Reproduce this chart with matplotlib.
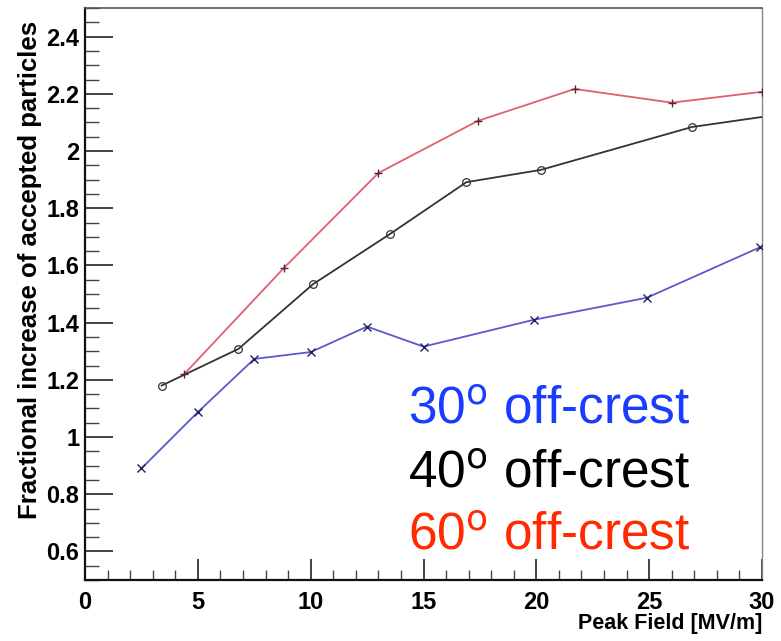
import matplotlib
matplotlib.use("Agg")
import matplotlib.pyplot as plt
from matplotlib.ticker import MultipleLocator

plt.rcParams['font.family'] = ['Liberation Sans', 'DejaVu Sans']

# Fractional increase of accepted particles vs peak field, per off-crest phase
field_30 = [2.5, 5.0, 7.5, 10.0, 12.5, 15.0, 19.9, 24.9, 29.9]
frac_30 = [0.89, 1.087, 1.273, 1.297, 1.386, 1.316, 1.41, 1.487, 1.663]

field_40 = [3.4, 6.8, 10.1, 13.5, 16.9, 20.2, 26.9, 30.0]
frac_40 = [1.18, 1.308, 1.534, 1.709, 1.891, 1.934, 2.084, 2.119]

field_60 = [4.4, 8.8, 13.0, 17.4, 21.7, 26.0, 30.0]
frac_60 = [1.22, 1.59, 1.923, 2.105, 2.217, 2.169, 2.207]

x_ticks = [0, 5, 10, 15, 20, 25, 30]
y_ticks = [0.6, 0.8, 1.0, 1.2, 1.4, 1.6, 1.8, 2.0, 2.2, 2.4]
y_tick_labels = ["0.6", "0.8", "1", "1.2", "1.4", "1.6", "1.8", "2", "2.2", "2.4"]

fig = plt.figure(figsize=(7.81, 6.41), dpi=100)
ax = fig.add_axes([85 / 781, 1 - 580 / 641, 677 / 781, 572 / 641])

ax.plot(field_60, frac_60, color="#e0606c", lw=1.3, marker="+", ms=6,
        mew=1.0, mec="#602030", zorder=3)
ax.plot(field_40, frac_40, color="#333333", lw=1.3, marker="o", ms=5.5,
        mfc="none", mew=0.9, mec="#333333", markevery=list(range(len(field_40) - 1)),
        zorder=3)
ax.plot(field_30, frac_30, color="#5a5ac8", lw=1.3, marker="x", ms=6,
        mew=1.0, mec="#202060", zorder=3)

ax.set_xlim(0, 30)
ax.set_ylim(0.5, 2.5)
ax.set_xticks(x_ticks)
ax.set_xticklabels([str(v) for v in x_ticks])
ax.set_yticks(y_ticks)
ax.set_yticklabels(y_tick_labels)
ax.xaxis.set_minor_locator(MultipleLocator(1))
ax.yaxis.set_minor_locator(MultipleLocator(0.05))

ax.tick_params(axis="both", which="major", direction="in", labelsize=17,
               width=1.2, color="#222222")
ax.tick_params(axis="y", which="major", length=20, pad=4)
ax.tick_params(axis="x", which="major", length=15, pad=8)
ax.tick_params(axis="y", which="minor", direction="in", length=10, width=1.0,
               color="#444444")
ax.tick_params(axis="x", which="minor", direction="in", length=7, width=1.0,
               color="#444444")
ax.tick_params(top=False, right=False)
for lab in ax.get_xticklabels() + ax.get_yticklabels():
    lab.set_fontweight("bold")

ax.spines["left"].set_linewidth(1.6)
ax.spines["left"].set_color("#111111")
ax.spines["bottom"].set_linewidth(1.6)
ax.spines["bottom"].set_color("#111111")
ax.spines["top"].set_linewidth(1.2)
ax.spines["top"].set_color("#555555")
ax.spines["right"].set_linewidth(1.0)
ax.spines["right"].set_color("#888888")

fig.text(30 / 781, 1 - 270 / 641, "Fractional increase of accepted particles",
         rotation=90, ha="center", va="center", fontsize=18.5, fontweight="bold")
fig.text(762 / 781, 1 - 624 / 641, "Peak Field [MV/m]", ha="right",
         va="center", fontsize=15.5, fontweight="bold")

legend_rows = [("30", "#1a3cff", 423), ("40", "#000000", 487), ("60", "#ff2a00", 550)]
for angle, col, base in legend_rows:
    fig.text(408 / 781, 1 - base / 641,
             r"%s$^{\mathrm{o}}$ off-crest" % angle,
             color=col, fontsize=37, ha="left", va="baseline")

fig.savefig("out.png", dpi=100)
